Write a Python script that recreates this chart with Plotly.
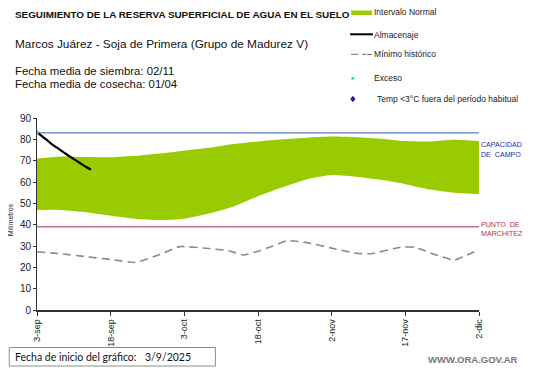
import plotly.graph_objects as go
from datetime import date, timedelta

# ---------------- data ----------------
start_date = date(2025, 9, 3)

band_days = [0, 5, 10, 15, 20, 25, 30, 35, 40, 45, 50, 55, 60, 65, 70, 75, 80, 85, 90]
band_upper = [71.0, 72.0, 71.7, 71.6, 72.3, 73.4, 74.7, 76.0, 77.8, 79.0, 80.0, 80.8, 81.3, 81.0, 80.3, 79.2, 79.0, 79.8, 79.2]
band_lower = [46.9, 46.9, 45.8, 44.2, 42.8, 42.2, 42.8, 45.2, 48.5, 53.3, 57.5, 61.3, 63.3, 62.5, 61.0, 59.0, 56.5, 55.0, 54.3]

storage_days = [0, 1, 2, 3, 4, 5, 6, 7, 8, 9, 10, 11]
storage_mm = [83.3, 81.5, 79.7, 77.8, 76.2, 74.6, 73.0, 71.5, 70.0, 68.5, 67.0, 65.8]

min_days = [0, 5, 10, 15, 20, 25, 29, 35, 39, 42, 45, 48, 51, 55, 60, 65, 68, 74, 77, 81, 85, 90]
min_mm = [27.3, 26.3, 25.0, 23.7, 22.3, 26.0, 29.7, 28.8, 27.8, 25.8, 27.5, 30.0, 32.5, 31.6, 29.0, 26.6, 26.4, 29.4, 29.4, 26.0, 23.4, 28.4]

excess_days = [0]
excess_mm = [83.3]

field_capacity = 83
wilting_point = 39
end_day = 90

tick_days = [0, 15, 30, 45, 60, 75, 90]
tick_labels = ["3-sep", "18-sep", "3-oct", "18-oct", "2-nov", "17-nov", "2-dic"]


def to_dates(days):
    return [(start_date + timedelta(days=d)).isoformat() for d in days]


# ---------------- geometry helpers (legend / texts) ----------------
# The page has an 8px body margin, so the figure is drawn 8px smaller
# and all screen positions below are shifted by that offset.
OFF = 8
W, H = 541 - OFF, 368 - OFF
L, T = 33 - OFF, 118 - OFF
PW, PH = 446, 192
R = W - L - PW
B = H - T - PH


def px(x):
    return (x - OFF - L) / PW


def py(y):
    return (H - B - (y - OFF)) / PH


fig = go.Figure()

# Normal interval band
fig.add_trace(go.Scatter(x=to_dates(band_days), y=band_lower, mode="lines",
                         line=dict(width=0, shape="spline", smoothing=0.6),
                         hoverinfo="skip", showlegend=False))
fig.add_trace(go.Scatter(x=to_dates(band_days), y=band_upper, mode="lines",
                         line=dict(width=0, shape="spline", smoothing=0.6),
                         fill="tonexty", fillcolor="#99cc00",
                         name="Intervalo Normal", showlegend=False))

# Field capacity and wilting point
fig.add_trace(go.Scatter(x=to_dates([0, end_day]), y=[field_capacity, field_capacity],
                         mode="lines", line=dict(color="#5b7ec2", width=1.2),
                         showlegend=False))
fig.add_trace(go.Scatter(x=to_dates([0, end_day]), y=[wilting_point, wilting_point],
                         mode="lines", line=dict(color="#c9707c", width=1.6),
                         showlegend=False))

# Historical minimum
fig.add_trace(go.Scatter(x=to_dates(min_days), y=min_mm, mode="lines",
                         line=dict(color="#8a8a8a", width=1.6, dash="8px,5px",
                                   shape="spline", smoothing=0.4),
                         name="Mínimo histórico", showlegend=False))

# Storage
fig.add_trace(go.Scatter(x=to_dates(storage_days), y=storage_mm, mode="lines",
                         line=dict(color="#000000", width=2.2, shape="spline"),
                         name="Almacenaje", showlegend=False))

# Excess marker
fig.add_trace(go.Scatter(x=to_dates(excess_days), y=excess_mm, mode="markers",
                         marker=dict(color="#33cccc", size=4),
                         name="Exceso", showlegend=False))

font_main = "Liberation Sans, Arial, sans-serif"

annotations = []
shapes = []
PADX = 3  # annotation inner padding compensation


def add_text(x, y, text, size, color="#111111", bold=False, xanchor="left", family=font_main):
    if bold:
        text = "<b>" + text + "</b>"
    xx = x - PADX if xanchor == "left" else x + PADX - 1
    annotations.append(dict(x=px(xx), y=py(y), xref="paper", yref="paper", text=text,
                            showarrow=False, xanchor=xanchor, yanchor="middle",
                            font=dict(size=size, color=color, family=family)))


# Titles
add_text(12, 14.5, "SEGUIMIENTO DE LA RESERVA SUPERFICIAL DE AGUA EN EL SUELO", 9.9, bold=True)
add_text(12, 44, "Marcos Juárez - Soja de Primera (Grupo de Madurez V)", 11.8)
add_text(12, 71, "Fecha media de siembra: 02/11", 11.4)
add_text(12, 84, "Fecha media de cosecha: 01/04", 11.4)

# Legend (manual)
leg_font = 8.5
shapes.append(dict(type="rect", xref="paper", yref="paper", x0=px(350), x1=px(371),
                   y0=py(15), y1=py(10.5), fillcolor="#99cc00", line=dict(width=0)))
add_text(374, 12.5, "Intervalo Normal", leg_font, color="#222222")
shapes.append(dict(type="line", xref="paper", yref="paper", x0=px(349), x1=px(372),
                   y0=py(34.3), y1=py(34.3), line=dict(color="#000000", width=2)))
add_text(374, 34.5, "Almacenaje", leg_font, color="#222222")
shapes.append(dict(type="line", xref="paper", yref="paper", x0=px(350), x1=px(365),
                   y0=py(54.3), y1=py(54.3), line=dict(color="#8a8a8a", width=1.3, dash="7px,4px")))
add_text(367, 54.5, "– Mínimo histórico", leg_font, color="#222222")
shapes.append(dict(type="circle", xref="paper", yref="paper", x0=px(350.2), x1=px(353.2),
                   y0=py(79.8), y1=py(76.8), fillcolor="#33cccc", line=dict(width=0)))
add_text(374, 77.5, "Exceso", leg_font, color="#222222")
dx, dy = 2.6, 3.2
cx, cy = 351.7, 99
shapes.append(dict(type="path", xref="paper", yref="paper",
                   path="M {} {} L {} {} L {} {} L {} {} Z".format(
                       px(cx), py(cy - dy), px(cx + dx), py(cy), px(cx), py(cy + dy), px(cx - dx), py(cy)),
                   fillcolor="#1a1aa0", line=dict(width=0)))
add_text(377, 99, "Temp &lt;3°C fuera del período habitual", leg_font, color="#222222")

# Right side labels
add_text(482, 145, "CAPACIDAD", 7.1, color="#2b2b9a")
add_text(482, 154.5, "DE  CAMPO", 7.1, color="#2b2b9a")
add_text(482, 224.5, "PUNTO  DE", 7.1, color="#c0303a")
add_text(482, 234, "MARCHITEZ", 7.1, color="#c0303a")

# Bottom texts
shapes.append(dict(type="rect", xref="paper", yref="paper", x0=px(5), x1=px(213),
                   y0=py(366), y1=py(347.5), fillcolor="rgba(0,0,0,0)",
                   line=dict(color="#8c8c8c", width=1)))
add_text(12, 357, "Fecha de inicio del gráfico:", 10.5, color="#111111", family="Lato, Carlito, sans-serif")
add_text(143, 357, "3/9/2025", 10.5, color="#111111", family="Lato, Carlito, sans-serif")
add_text(518, 359.5, "WWW.ORA.GOV.AR", 9.5, color="#777777", bold=True, xanchor="right")

# Y axis title
annotations.append(dict(x=px(6), y=py(220), xref="paper", yref="paper", text="Milímetros",
                        showarrow=False, textangle=-90, xanchor="center", yanchor="middle",
                        font=dict(size=7, color="#222222", family=font_main)))

fig.update_layout(
    width=W, height=H,
    margin=dict(l=L, r=R, t=T, b=B, pad=0),
    paper_bgcolor="white", plot_bgcolor="white",
    showlegend=False,
    annotations=annotations,
    shapes=shapes,
    font=dict(family=font_main, color="#222222"),
    xaxis=dict(
        type="date",
        range=to_dates([0, end_day]),
        tickvals=to_dates(tick_days), ticktext=tick_labels,
        tickangle=-90, tickfont=dict(size=9, color="#222222"),
        showgrid=False, zeroline=False,
        showline=True, linecolor="#333333", linewidth=1.5,
        ticks="outside", ticklen=4, tickcolor="#333333",
    ),
    yaxis=dict(
        range=[0, 90], dtick=10, tick0=0,
        tickfont=dict(size=10, color="#222222"),
        showgrid=False, zeroline=False,
        showline=True, linecolor="#333333", linewidth=1,
        ticks="outside", ticklen=3, tickcolor="#333333",
    ),
)

fig.write_html("out.html")
